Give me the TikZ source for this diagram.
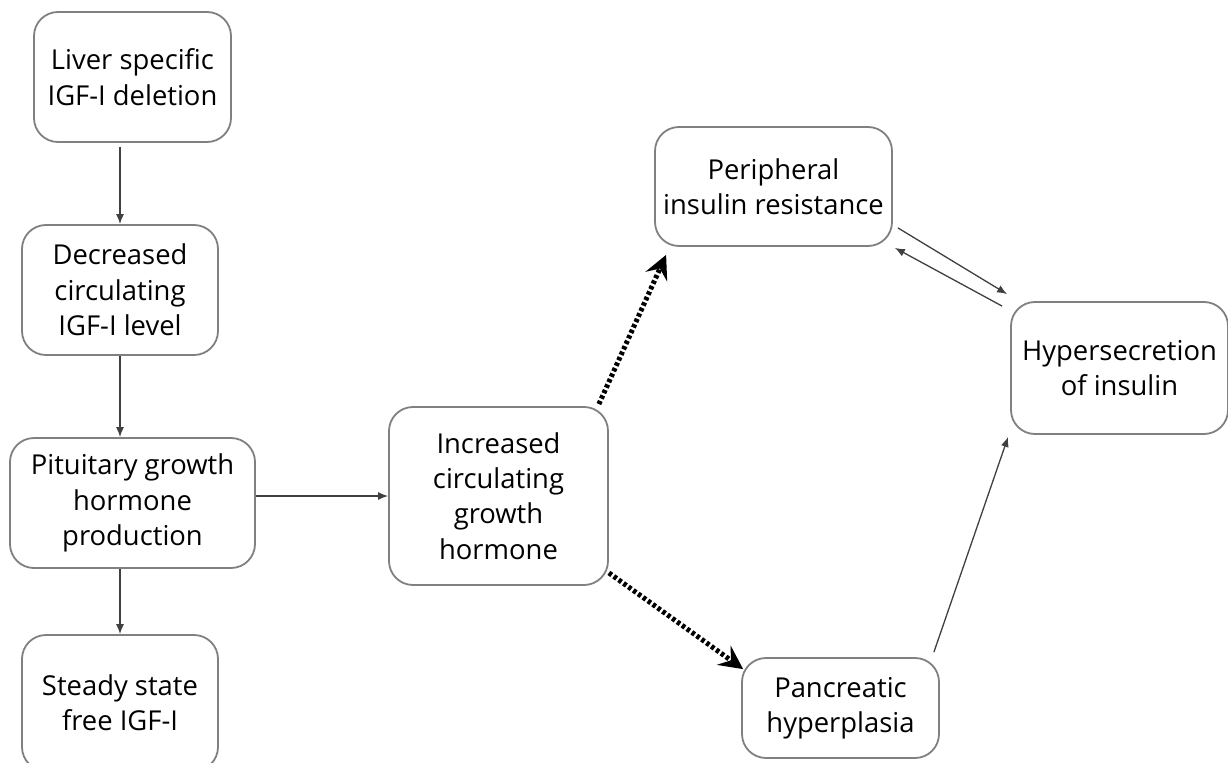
\documentclass[tikz,border=0pt]{standalone}
\usepackage{fontspec}
\setmainfont{Open Sans}
\usetikzlibrary{arrows.meta,calc}
\tikzset{
  box/.style={draw=black!50, line width=1.8bp, rounded corners=24bp, align=center,
    inner sep=0pt, font=\fontsize{27.5}{35.5}\selectfont},
  thin/.style={draw=black!75, line width=1.3bp, -{Latex[length=10bp,width=8bp]}},
  dots/.style={draw=black, line width=5bp, dash pattern=on 3.5bp off 2.5bp,
    -{Stealth[length=24bp,width=24bp,inset=9bp,line width=0pt]}}
}
\begin{document}
\begin{tikzpicture}[x=1bp,y=-1bp]
\useasboundingbox (0,0) rectangle (1228,763);
\clip (0,0) rectangle (1228,763);
\fill[white] (0,0) rectangle (1228,763);
\node[box, minimum width=197bp, minimum height=130bp] (liver) at (132.5,77) {Liver specific\\IGF-I deletion};
\node[box, minimum width=196bp, minimum height=130bp] (dec) at (120,290) {Decreased\\circulating\\IGF-I level};
\node[box, minimum width=245bp, minimum height=130bp] (pit) at (132.5,503) {Pituitary growth\\hormone\\production};
\node[box, minimum width=196bp, minimum height=136bp] (steady) at (120,703) {Steady state\\free IGF-I};
\node[box, minimum width=219bp, minimum height=178bp] (inc) at (498.5,496) {Increased\\circulating\\growth\\hormone};
\node[box, minimum width=237bp, minimum height=119bp] (per) at (773.5,186.5) {Peripheral\\insulin resistance};
\node[box, minimum width=217bp, minimum height=132bp] (hyp) at (1119.5,368) {Hypersecretion\\of insulin};
\node[box, minimum width=197bp, minimum height=100bp] (pan) at (840.5,708) {Pancreatic\\hyperplasia};

\draw[thin] ($(dec.north |- liver.south)+(0,4)$) -- (dec.north);
\draw[thin] (dec.south) -- (dec.south |- pit.north);
\draw[thin] (steady.north |- pit.south) -- (steady.north);
\draw[thin] (pit.east |- inc.west) -- (inc.west);
\draw[dots] ($(inc.north east)+(-10,-2)$) -- ($(per.south west)+(12,8)$);
\draw[dots] ($(inc.south east)+(0,-13)$) -- ($(pan.north west)+(2,12)$);
\draw[thin] ($(per.south east)+(5,-19)$) -- ($(hyp.north west)+(-3,-7)$);
\draw[thin] ($(hyp.north west)+(-8,5)$) -- ($(per.south east)+(2,1)$);
\draw[thin] ($(pan.north east)+(-6,-5)$) -- ($(hyp.south west)+(-2,2)$);
\end{tikzpicture}
\end{document}
